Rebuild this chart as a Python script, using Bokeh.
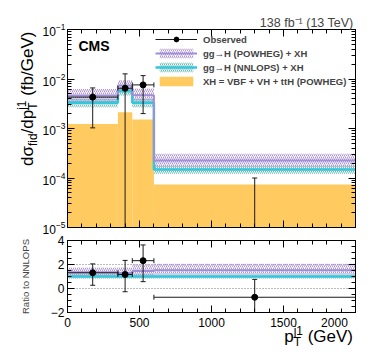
import math
from bokeh.plotting import figure
from bokeh.layouts import column, row
from bokeh.models import (Range1d, LinearAxis, LogAxis, LogTicker, SingleIntervalTicker,
                          Label, Legend, LegendItem, CustomJSTickFormatter, Div)
from bokeh.embed import file_html
from bokeh.resources import INLINE

FONT = "Liberation Sans"

# ---------------- data ----------------
bin_edges = [0, 350, 450, 600, 2000]

obs = [4.3e-3, 6.5e-3, 7.6e-3, -1.1e-4]
obs_hi = [6.6e-3, 1.27e-2, 1.17e-2, 1.0e-4]
obs_lo = [1.03e-3, -1.5e-3, 2.0e-3, -4.3e-4]

xh = [1.24e-3, 2.14e-3, 1.52e-3, 7.4e-5]

powheg = [4.6e-3, 7.4e-3, 4.7e-3, 2.26e-4]
powheg_hi = [6.3e-3, 9.6e-3, 6.4e-3, 3.08e-4]
powheg_lo = [3.4e-3, 5.6e-3, 3.5e-3, 1.66e-4]

nnlops = [3.3e-3, 5.67e-3, 3.3e-3, 1.49e-4]
nnlops_hi = [3.9e-3, 6.7e-3, 3.9e-3, 1.76e-4]
nnlops_lo = [2.7e-3, 4.65e-3, 2.7e-3, 1.22e-4]

ratio_obs = [1.31, 1.17, 2.32, -0.73]
ratio_obs_hi = [2.05, 2.34, 3.63, 0.76]
ratio_obs_lo = [0.27, -0.27, 0.57, -2.9]

ratio_powheg = [1.36, 1.30, 1.45, 1.52]
ratio_powheg_hi = [1.75, 1.75, 2.0, 2.07]
ratio_powheg_lo = [1.03, 1.0, 1.1, 1.17]

ratio_nnlops = [1.0, 1.0, 1.0, 1.0]
ratio_nnlops_hi = [1.17, 1.17, 1.17, 1.17]
ratio_nnlops_lo = [0.83, 0.83, 0.83, 0.83]

x_range_main = (0, 2000)
y_range_main = (1e-5, 1e-1)
y_range_ratio = (-2, 4)

# ---------------- derived ----------------
lefts = bin_edges[:-1]
rights = bin_edges[1:]
centers = [(a + b) / 2 for a, b in zip(lefts, rights)]

PURPLE_LINE = "#9f90d4"
PURPLE_HATCH = "#b093d8"
CYAN_LINE = "#33c6dc"
TEAL_HATCH = "#6fbfb6"
ORANGE = "#ffca60"
ERR = "#1a1a1a"

W = 374
YT_W = 38          # width of the y-title strip
TOP_H = 235        # height of main panel row
RAT_H = 97         # ratio panel height
XT_H = 27          # x-title strip height


def style_axis(ax, labels=True, size="12px", standoff=4):
    ax.major_tick_in = 7
    ax.major_tick_out = 0
    ax.minor_tick_in = 4
    ax.minor_tick_out = 0
    ax.axis_line_color = "black"
    ax.major_tick_line_color = "black"
    ax.minor_tick_line_color = "black"
    ax.major_label_text_font = FONT
    ax.major_label_text_color = "black"
    ax.major_label_text_font_size = size
    if labels:
        ax.major_label_standoff = standoff
    else:
        ax.formatter = CustomJSTickFormatter(code="return ''")
        ax.major_label_standoff = 0


SUB = 'font-size:0.7em;position:relative;top:0.34em'
SUP = 'font-size:0.7em;position:relative;top:-0.62em'

# ---------------- main panel ----------------
p = figure(width=W - YT_W, height=TOP_H, x_range=Range1d(*x_range_main),
           y_range=Range1d(*y_range_main), y_axis_type="log",
           output_backend="svg", toolbar_location=None,
           min_border_left=67 - YT_W, min_border_right=19, min_border_top=29,
           min_border_bottom=TOP_H - 227)
p.grid.visible = False
p.outline_line_color = "black"
p.background_fill_color = "white"

p.title.text = "138 fb⁻¹ (13 TeV)"
p.title.align = "right"
p.title.text_font = FONT
p.title.text_font_style = "normal"
p.title.text_font_size = "12.5px"
p.title.standoff = 0
p.title.offset = 2

p.xaxis.ticker = SingleIntervalTicker(interval=500, num_minor_ticks=5)
p.yaxis.ticker = LogTicker(num_minor_ticks=10)
style_axis(p.xaxis[0], labels=False)
style_axis(p.yaxis[0], labels=True, size="12px", standoff=2)
ax_top = LinearAxis(ticker=SingleIntervalTicker(interval=500, num_minor_ticks=5))
style_axis(ax_top, labels=False)
p.add_layout(ax_top, "above")
ax_right = LogAxis(ticker=LogTicker(num_minor_ticks=10))
style_axis(ax_right, labels=False)
p.add_layout(ax_right, "right")

ymin = y_range_main[0]
r_xh = p.quad(left=lefts, right=rights, bottom=[ymin * 1e-3] * len(xh), top=xh,
              fill_color=ORANGE, line_color=None)
r_nn_band = p.quad(left=lefts, right=rights, bottom=nnlops_lo, top=nnlops_hi,
                   fill_color=None, line_color=None, hatch_pattern="\\",
                   hatch_color=TEAL_HATCH, hatch_scale=4, hatch_weight=1)
r_pw_band = p.quad(left=lefts, right=rights, bottom=powheg_lo, top=powheg_hi,
                   fill_color=None, line_color=None, hatch_pattern="/",
                   hatch_color=PURPLE_HATCH, hatch_scale=4, hatch_weight=1)
r_nn_line = p.step(x=bin_edges, y=nnlops + [nnlops[-1]], mode="after",
                   line_color=CYAN_LINE, line_width=2.5)
r_pw_line = p.step(x=bin_edges, y=powheg + [powheg[-1]], mode="after",
                   line_color=PURPLE_LINE, line_width=2)

obs_pos = [v if v > 0 else ymin * 1e-3 for v in obs]
lo_draw = [v if v > 0 else ymin * 1e-3 for v in obs_lo]
p.segment(x0=centers, x1=centers, y0=lo_draw, y1=obs_hi, line_color=ERR, line_width=1)
r_hbar = p.segment(x0=lefts, x1=rights, y0=obs_pos, y1=obs_pos, line_color=ERR, line_width=1)
p.scatter(x=centers + centers, y=obs_hi + lo_draw, marker="dash", size=5,
          line_color=ERR, line_width=1)
p.scatter(x=lefts + rights, y=obs_pos + obs_pos, marker="dash", angle=math.pi / 2,
          size=5, line_color=ERR, line_width=1)
r_pts = p.scatter(x=centers, y=obs_pos, marker="circle", size=6,
                  fill_color="black", line_color="black")

legend = Legend(items=[
    LegendItem(label="Observed", renderers=[r_hbar, r_pts]),
    LegendItem(label="gg→H (POWHEG) + XH", renderers=[r_pw_band, r_pw_line]),
    LegendItem(label="gg→H (NNLOPS) + XH", renderers=[r_nn_band, r_nn_line]),
    LegendItem(label="XH = VBF + VH + ttH (POWHEG)", renderers=[r_xh]),
], location=(88, 140), orientation="vertical", padding=0, margin=0, spacing=2,
    glyph_width=42, glyph_height=12, label_height=12, label_standoff=6,
    label_text_font=FONT, label_text_font_style="bold", label_text_font_size="9.5px",
    label_text_baseline="middle",
    background_fill_alpha=0, border_line_alpha=0)
p.add_layout(legend)

p.add_layout(Label(x=11, y=182, x_units="screen", y_units="screen", text="CMS",
                   text_font=FONT, text_font_size="14px", text_font_style="bold",
                   text_baseline="alphabetic", text_color="black"))

# ---------------- y-title strip: dσ_fid/dp_T^j1 (fb/GeV) ----------------
ytitle_html = (
    f'<div style="position:relative;width:{YT_W}px;height:{TOP_H}px;overflow:visible;">'
    f'<div style="position:absolute;left:19px;top:166px;transform-origin:0 0;'
    f'transform:rotate(-90deg);white-space:nowrap;font-family:\'{FONT}\';'
    f'font-size:17px;line-height:1;color:black;">'
    f'dσ<span style="{SUB}">fid</span>/dp<span style="{SUB}">T</span>'
    f'<span style="{SUP};margin-left:-0.611em">j1</span> (fb/GeV)'
    f'</div></div>'
)
fy = Div(text=ytitle_html, width=YT_W, height=TOP_H, margin=0)

# ---------------- ratio panel ----------------
p2 = figure(width=W, height=RAT_H, x_range=p.x_range, y_range=Range1d(*y_range_ratio),
            output_backend="svg", toolbar_location=None,
            min_border_left=67, min_border_right=19, min_border_top=240 - TOP_H,
            min_border_bottom=TOP_H + RAT_H - 313)
p2.outline_line_color = "black"
p2.xgrid.visible = False
p2.ygrid.grid_line_color = "#777777"
p2.ygrid.grid_line_dash = "1 2"
p2.ygrid.grid_line_width = 1

p2.xaxis.ticker = SingleIntervalTicker(interval=500, num_minor_ticks=5)
p2.yaxis.ticker = SingleIntervalTicker(interval=2, num_minor_ticks=4)
style_axis(p2.xaxis[0], labels=True, size="12px", standoff=3)
style_axis(p2.yaxis[0], labels=True, size="12px", standoff=3)
p2.xaxis.major_label_overrides = {2000: "2000\u2007\u2007\u2007\u2007"}
p2.yaxis.major_label_overrides = {-2: "\u22122"}
p2.yaxis.axis_label = "Ratio to NNLOPS"
p2.yaxis.axis_label_text_font = FONT
p2.yaxis.axis_label_text_font_style = "normal"
p2.yaxis.axis_label_text_font_size = "9.6px"
p2.yaxis.axis_label_standoff = 17
ax2_top = LinearAxis(ticker=SingleIntervalTicker(interval=500, num_minor_ticks=5))
style_axis(ax2_top, labels=False)
p2.add_layout(ax2_top, "above")
ax2_right = LinearAxis(ticker=SingleIntervalTicker(interval=2, num_minor_ticks=4))
style_axis(ax2_right, labels=False)
p2.add_layout(ax2_right, "right")

p2.quad(left=lefts, right=rights, bottom=ratio_nnlops_lo, top=ratio_nnlops_hi,
        fill_color=None, line_color=None, hatch_pattern="\\",
        hatch_color=TEAL_HATCH, hatch_scale=4, hatch_weight=1)
p2.quad(left=lefts, right=rights, bottom=ratio_powheg_lo, top=ratio_powheg_hi,
        fill_color=None, line_color=None, hatch_pattern="/",
        hatch_color=PURPLE_HATCH, hatch_scale=4, hatch_weight=1)
p2.step(x=bin_edges, y=ratio_nnlops + [ratio_nnlops[-1]], mode="after",
        line_color=CYAN_LINE, line_width=2.5)
p2.step(x=bin_edges, y=ratio_powheg + [ratio_powheg[-1]], mode="after",
        line_color=PURPLE_LINE, line_width=2)

p2.segment(x0=centers, x1=centers, y0=ratio_obs_lo, y1=ratio_obs_hi, line_color=ERR, line_width=1)
p2.segment(x0=lefts, x1=rights, y0=ratio_obs, y1=ratio_obs, line_color=ERR, line_width=1)
p2.scatter(x=centers + centers, y=ratio_obs_hi + ratio_obs_lo, marker="dash", size=5,
           line_color=ERR, line_width=1)
p2.scatter(x=lefts + rights, y=ratio_obs + ratio_obs, marker="dash", angle=math.pi / 2,
           size=5, line_color=ERR, line_width=1)
p2.scatter(x=centers, y=ratio_obs, marker="circle", size=6, fill_color="black", line_color="black")

# ---------------- x-title strip: p_T^j1 (GeV) ----------------
xtitle_html = (
    f'<div style="position:relative;width:{W}px;height:{XT_H}px;overflow:visible;">'
    f'<div style="position:absolute;right:21px;top:-4px;white-space:nowrap;'
    f'font-family:\'{FONT}\';font-size:17px;line-height:1;color:black;">'
    f'p<span style="{SUB}">T</span><span style="{SUP};margin-left:-0.611em">j1</span> (GeV)'
    f'</div></div>'
)
fx = Div(text=xtitle_html, width=W, height=XT_H, margin=0)

layout = column(row(fy, p, spacing=0), p2, fx, spacing=0)
open("out.html", "w").write(file_html(layout, INLINE))
